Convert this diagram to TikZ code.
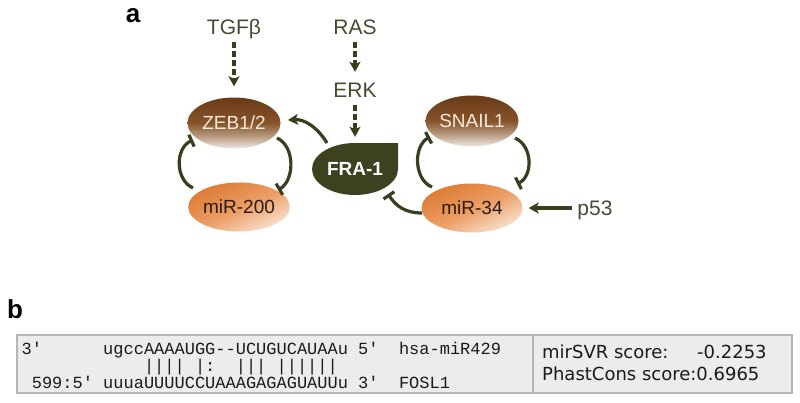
\documentclass[tikz,border=0pt]{standalone}
\usepackage{fontspec}
\setmainfont{Liberation Sans}
\setmonofont{Liberation Mono}
\newfontfamily\verd{DejaVu Sans}
\usetikzlibrary{arrows.meta,shapes.geometric,calc}
\definecolor{labcol}{HTML}{4A4A32}
\definecolor{conncol}{HTML}{3A3D1E}
\definecolor{fracol}{HTML}{3D4120}
\definecolor{zebtop}{HTML}{6A3A17}
\definecolor{zebmid}{HTML}{86542B}
\definecolor{zebfade}{HTML}{B89A80}
\definecolor{zebbot}{HTML}{EEE9E6}
\definecolor{cream}{HTML}{F5EADB}
\definecolor{mirtop}{HTML}{DE7A33}
\definecolor{mirmid}{HTML}{EB9F66}
\definecolor{mirbot}{HTML}{F8E2D0}
\definecolor{mirtext}{HTML}{2B1A10}
\definecolor{boxfill}{HTML}{ECECEC}
\definecolor{boxline}{HTML}{B5B5B5}
\definecolor{btext}{HTML}{1A1A1A}
\pgfdeclareverticalshading{zebsh}{100bp}{color(0bp)=(zebbot); color(25bp)=(zebbot); color(37bp)=(zebfade); color(50bp)=(zebmid); color(75bp)=(zebtop); color(100bp)=(zebtop)}
\pgfdeclareverticalshading{mirsh}{100bp}{color(0bp)=(mirbot); color(25bp)=(mirbot); color(48bp)=(mirmid); color(75bp)=(mirtop); color(100bp)=(mirtop)}
\begin{document}
\begin{tikzpicture}[x=1pt,y=-1pt,
  lab/.style={font=\fontsize{21}{21}\selectfont, text=labcol, inner sep=0pt, text height=15pt, text depth=0pt},
  brownell/.style={ellipse, inner sep=0pt, minimum width=93pt, minimum height=51pt,
     shading=zebsh, text=cream,
     font=\fontsize{19}{19}\selectfont},
  mirell/.style={ellipse, inner sep=0pt, minimum width=101pt, minimum height=49pt,
     shading=mirsh, shading angle=25, text=mirtext,
     font=\fontsize{19}{19}\selectfont},
  conn/.style={draw=conncol, line width=3.2pt},
  act/.style={conn, -{Stealth[length=10pt,width=11pt,inset=2.5pt]}},
  inh/.style={conn, -{Bar[width=13pt,line width=3.2pt]}},
  dasharr/.style={act, dash pattern=on 6pt off 3pt},
  panlab/.style={font=\fontsize{26}{26}\selectfont\bfseries, inner sep=0pt, text=black},
  mono/.style={anchor=base west, inner sep=0pt, text=btext, font=\ttfamily\fontsize{17}{17}\selectfont},
  verdt/.style={anchor=base west, inner sep=0pt, text=btext, font=\verd\fontsize{18}{18}\selectfont},
]
\useasboundingbox (0,0) rectangle (800,402);
\fill[white] (0,0) rectangle (800,402);

% panel a
\node[panlab] (pa) at (133,16) {a};
\node[lab] (tgf) at (234,27) {TGFβ};
\node[lab] (ras) at (355,27) {RAS};
\node[lab] (erk) at (355,90) {ERK};
\node[lab, inner xsep=5pt] (p53) at (595,208) {p53};

\node[brownell] (zeb) at (234,123) {ZEB1/2};
\node[brownell] (snail) at (472,121) {SNAIL1};
\node[mirell] (mir200) at (239,207) {miR-200};
\node[mirell] (mir34) at (472,208) {miR-34};

\node[rectangle, inner sep=0pt, minimum width=86pt, minimum height=52pt,
  text=white, font=\fontsize{19}{19}\selectfont\bfseries,
  path picture={\fill[fracol] (path picture bounding box.north) -- (path picture bounding box.north east)
     -- (path picture bounding box.east)
     arc[start angle=0, end angle=-180, x radius=43pt, y radius=26pt]
     arc[start angle=180, end angle=90, x radius=43pt, y radius=26pt] -- cycle;}]
  (fra) at (355,169) {FRA-1};

% dashed activations
\draw[dasharr, shorten <=7.5pt, shorten >=11pt] (tgf) -- (zeb);
\draw[dasharr, shorten <=7.5pt, shorten >=10.5pt] (ras) -- (erk);
\draw[dasharr, shorten <=7.5pt, shorten >=6pt] (erk) -- (fra);

% loops
\draw[inh] ($(mir200)+(-46,-19)$) .. controls ($(mir200)+(-64,-27)$) and ($(zeb)+(-59,25)$) .. ($(zeb)+(-41,17)$);
\draw[inh] ($(zeb)+(43,15)$) .. controls ($(zeb)+(61,23)$) and ($(mir200)+(56,-27)$) .. ($(mir200)+(39,-17)$);
\draw[inh] ($(mir34)+(-40,-21)$) .. controls ($(mir34)+(-58,-28)$) and ($(snail)+(-59,25)$) .. ($(snail)+(-42,16)$);
\draw[inh] ($(snail)+(43,17)$) .. controls ($(snail)+(61,25)$) and ($(mir34)+(61,-32)$) .. ($(mir34)+(45,-24)$);

% FRA-1 -> ZEB1/2
\draw[act] ($(fra)+(-28,-26)$) .. controls ($(fra)+(-37,-41)$) and ($(zeb)+(71,-4)$) .. ($(zeb)+(54,-3)$);
% miR-34 -| FRA-1
\draw[inh] ($(mir34)+(-50,5)$) .. controls ($(mir34)+(-67,5)$) and ($(fra)+(41,37)$) .. ($(fra)+(33,25)$);
% p53 -> miR-34
\draw[act, shorten >=6pt] (p53) -- (mir34);

% panel b
\node[panlab] (pb) at (15,309) {b};
\draw[boxline, fill=boxfill, line width=1.2pt] (17,335) rectangle (792,393);
\draw[boxline, line width=1.2pt] (533,335) -- (533,393);

\node[mono] (l1) at (21.4,354) {3'~~~~~~ugccAAAAUGG--UCUGUCAUAAu~5'~~hsa-miR429};
\node[mono] (l2) at (21.4,371) {~~~~~~~~~~~~||||~|:~~|||~||||||};
\node[mono] (l3) at (21.4,388) {~599:5'~uuuaUUUUCCUAAAGAGAGUAUUu~3'~~FOSL1};

\node[verdt] (svr) at (542,358) {mirSVR score:};
\node[verdt] (svrv) at (697,358) {-0.2253};
\node[verdt] (phast) at (542,380) {PhastCons score:0.6965};
\end{tikzpicture}
\end{document}
